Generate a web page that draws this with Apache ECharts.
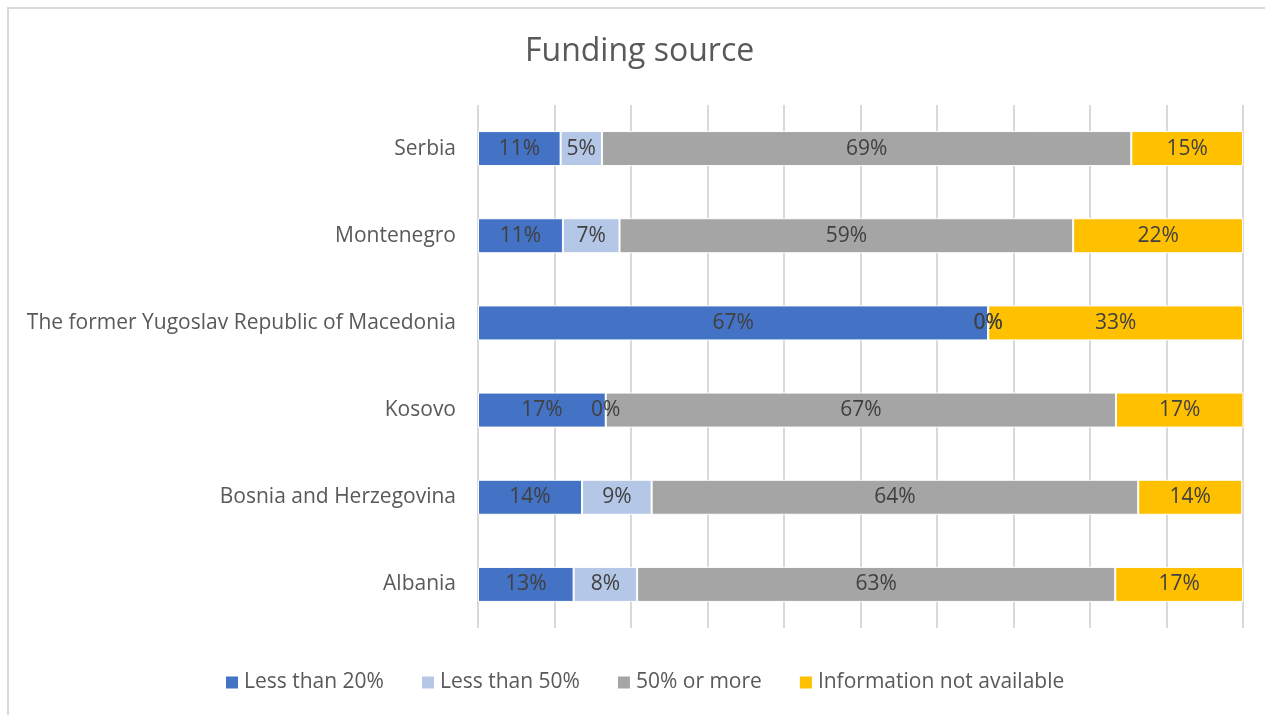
<!DOCTYPE html>
<html>
<head>
<meta charset="utf-8">
<script src="https://cdn.jsdelivr.net/npm/echarts@6/dist/echarts.min.js"></script>
<style>
  html, body { margin: 0; padding: 0; background: #fff; }
  #chart { width: 1265px; height: 715px; }
</style>
</head>
<body>
<div id="chart"></div>
<script>
// categories bottom to top
var countries = ['Albania', 'Bosnia and Herzegovina', 'Kosovo', 'The former Yugoslav Republic of Macedonia', 'Montenegro', 'Serbia'];
var seriesNames = ['Less than 20%', 'Less than 50%', '50% or more', 'Information not available'];
var lessThan20 = [12.5, 13.6, 16.7, 66.7, 11.1, 10.8];
var lessThan50 = [8.3, 9.1, 0, 0, 7.4, 5.4];
var fiftyOrMore = [62.5, 63.6, 66.7, 0, 59.3, 69.2];
var notAvailable = [16.7, 13.6, 16.7, 33.3, 22.2, 14.6];
var colors = ['#4472c4', '#b4c7e7', '#a5a5a5', '#ffc000'];

var chart = echarts.init(document.getElementById('chart'));
var font = '"Open Sans", sans-serif';
var allData = [lessThan20, lessThan50, fiftyOrMore, notAvailable];

var series = seriesNames.map(function (name, i) {
  return {
    name: name,
    type: 'bar',
    stack: 'total',
    barWidth: 35,
    data: allData[i],
    itemStyle: { color: colors[i], borderColor: '#fff', borderWidth: 1 },
    label: {
      show: true,
      position: 'inside',
      color: '#404040',
      fontSize: 21,
      fontFamily: font,
      formatter: function (p) { return Math.round(p.value) + '%'; }
    }
  };
});

chart.setOption({
  animation: false,
  title: {
    text: 'Funding source',
    left: 520,
    top: 31,
    textStyle: { fontFamily: font, fontSize: 32, fontWeight: 'normal', color: '#595959' }
  },
  legend: {
    bottom: 17,
    left: 219,
    itemWidth: 14,
    itemHeight: 14,
    itemGap: 36,
    icon: 'rect',
    textStyle: { fontFamily: font, fontSize: 21, color: '#595959' },
    data: seriesNames
  },
  grid: { left: 478, right: 22, top: 105, bottom: 87 },
  xAxis: {
    type: 'value',
    min: 0,
    max: 100,
    interval: 10,
    axisLabel: { show: false },
    axisLine: { show: false },
    axisTick: { show: false },
    splitLine: { lineStyle: { color: '#d9d9d9', width: 2 } }
  },
  yAxis: {
    type: 'category',
    data: countries,
    axisLine: { show: false },
    axisTick: { show: false },
    axisLabel: { fontFamily: font, fontSize: 21, color: '#595959', margin: 22 }
  },
  graphic: [{
    type: 'rect',
    shape: { x: 8, y: 8, width: 1265, height: 720 },
    style: { fill: 'none', stroke: '#d9d9d9', lineWidth: 2 },
    silent: true
  }],
  series: series
});
</script>
</body>
</html>
